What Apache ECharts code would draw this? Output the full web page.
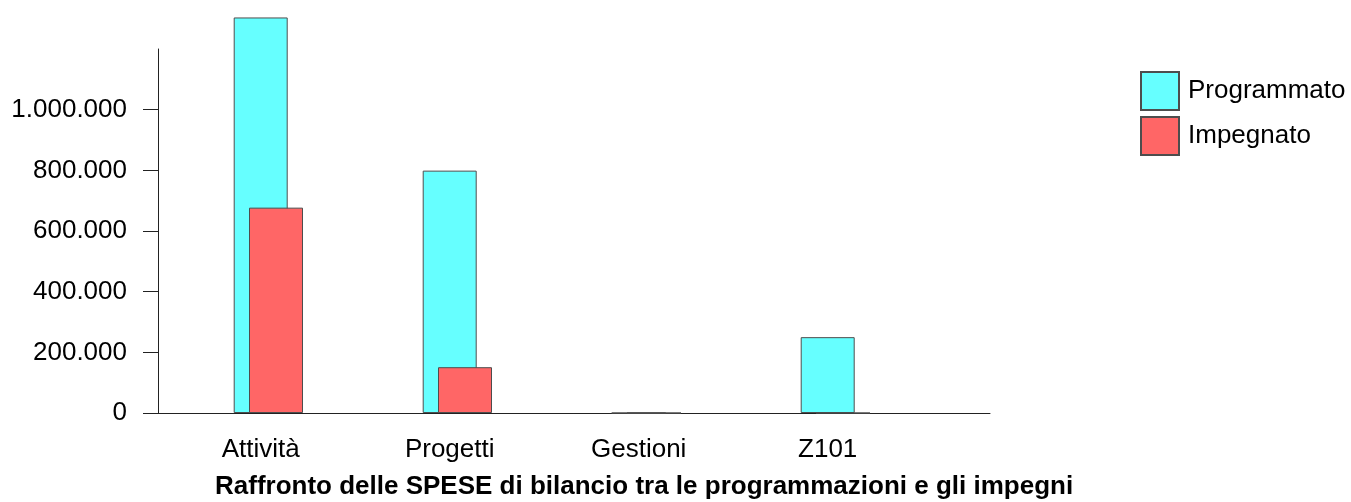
<!DOCTYPE html>
<html>
<head>
<meta charset="utf-8">
<script src="https://cdn.jsdelivr.net/npm/echarts@6/dist/echarts.min.js"></script>
<style>
html,body{margin:0;padding:0;background:#fff;}
#chart{width:1351px;height:502px;}
</style>
</head>
<body>
<div id="chart"></div>
<script>
const categories = ['Attività', 'Progetti', 'Gestioni', 'Z101'];
const programmato = [1304000, 799000, 0, 250000];
const impegnato = [677000, 151000, 0, 0];
const yTicks = [0, 200000, 400000, 600000, 800000, 1000000];
const seriesNames = ['Programmato', 'Impegnato'];
const titleText = 'Raffronto delle SPESE di bilancio tra le programmazioni e gli impegni';

const FONT = "'Liberation Sans', Arial, sans-serif";
const FS = 26;
const fmt = v => String(v).replace(/\B(?=(\d{3})+(?!\d))/g, '.');

const chart = echarts.init(document.getElementById('chart'), null, {renderer: 'canvas'});
const TOP = 49, HEIGHT = 364, YMAX = 1200000;
const hiddenY = idx => ({type: 'value', gridIndex: idx, min: 0, max: YMAX, show: false});

chart.setOption({
  backgroundColor: '#fff',
  animation: false,
  textStyle: {fontFamily: FONT},
  title: {
    text: titleText,
    left: 210, top: 469,
    textStyle: {fontFamily: FONT, fontSize: FS, fontWeight: 'bold', color: '#000'}
  },
  legend: {
    data: seriesNames,
    orient: 'vertical', left: 1135, top: 66,
    itemWidth: 38, itemHeight: 38, itemGap: 5, icon: 'rect',
    textStyle: {fontFamily: FONT, fontSize: FS, color: '#000', padding: [0, 0, 0, 4]}
  },
  grid: [
    {left: 158, top: TOP, width: 832, height: HEIGHT},
    {left: 166.2, top: TOP, width: 756, height: HEIGHT},
    {left: 181.5, top: TOP, width: 756, height: HEIGHT}
  ],
  xAxis: [
    {type: 'value', gridIndex: 0, min: 0, max: 1,
     axisLine: {show: true, lineStyle: {color: '#222', width: 1}},
     axisTick: {show: false}, axisLabel: {show: false}, splitLine: {show: false}},
    {type: 'category', gridIndex: 1, data: categories,
     axisLine: {show: false}, axisTick: {show: false}, splitLine: {show: false},
     axisLabel: {fontFamily: FONT, fontSize: FS, color: '#000', margin: 24}},
    {type: 'category', gridIndex: 2, data: categories, show: false}
  ],
  yAxis: [
    {type: 'value', gridIndex: 0, min: 0, max: YMAX, interval: 200000,
     axisLine: {show: true, lineStyle: {color: '#222', width: 1}},
     axisTick: {show: true, length: 15, customValues: yTicks, lineStyle: {color: '#222'}},
     axisLabel: {customValues: yTicks, formatter: fmt, fontFamily: FONT, fontSize: FS, color: '#000', margin: 31},
     splitLine: {show: false}},
    hiddenY(1),
    hiddenY(2)
  ],
  series: [
    {name: seriesNames[0], type: 'bar', xAxisIndex: 1, yAxisIndex: 1, data: programmato,
     barWidth: 54, clip: false,
     itemStyle: {color: '#66ffff', borderColor: '#4d4d4d', borderWidth: 1}},
    {name: seriesNames[1], type: 'bar', xAxisIndex: 2, yAxisIndex: 2, data: impegnato,
     barWidth: 54, clip: false,
     itemStyle: {color: '#ff6666', borderColor: '#4d4d4d', borderWidth: 1}}
  ]
});
</script>
</body>
</html>
